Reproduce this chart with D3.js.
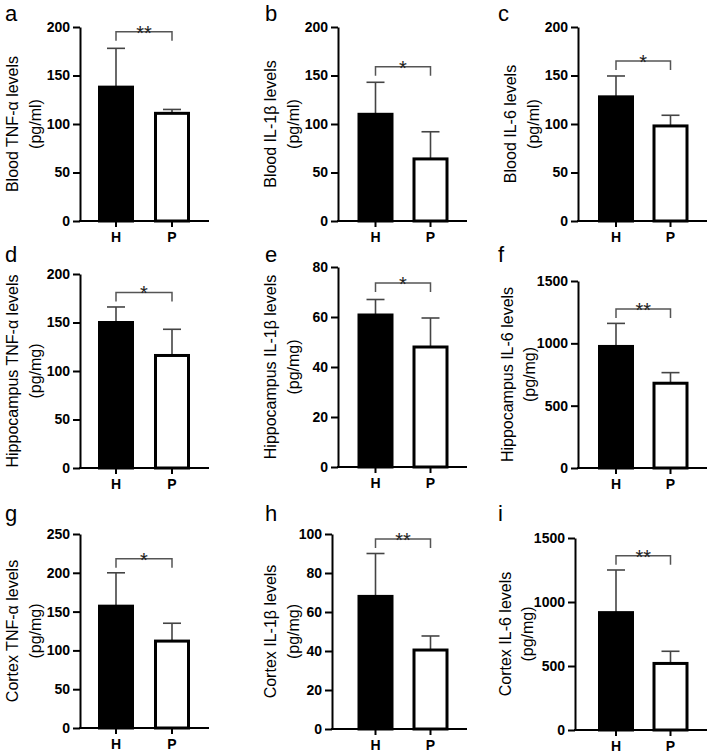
<!DOCTYPE html>
<html><head><meta charset="utf-8">
<script src="https://cdn.jsdelivr.net/npm/d3@7"></script>
<style>body{margin:0;background:#fff}svg{display:block;font-family:"Liberation Sans",Arial,sans-serif}</style>
</head><body><svg id="c" width="712" height="755"></svg>
<script>
const panelLetters = ["a","b","c","d","e","f","g","h","i"];
const groups = ["H","P"];
const titles = ["Blood TNF-α levels","Blood IL-1β levels","Blood IL-6 levels",
  "Hippocampus TNF-α levels","Hippocampus IL-1β levels","Hippocampus IL-6 levels",
  "Cortex TNF-α levels","Cortex IL-1β levels","Cortex IL-6 levels"];
const units = ["(pg/ml)","(pg/ml)","(pg/ml)","(pg/mg)","(pg/mg)","(pg/mg)","(pg/mg)","(pg/mg)","(pg/mg)"];
const meanH = [138,110,128,150,60.8,975,157,68,917];
const meanP = [111,64,98,116,48,680,112,40.5,520];
const errH  = [40,33,21.5,16,6.2,185,43,22,333];
const errP  = [4,28,11,27,11.6,85,23,7.2,95];
const sigValue = [195,159,165,181,73.6,1275,218,97.4,1362];
const sigText = ["**","*","*","*","*","**","*","**","**"];
const yMax = [200,200,200,200,80,1500,250,100,1500];
const yTicks = [
  [0,50,100,150,200],[0,50,100,150,200],[0,50,100,150,200],
  [0,50,100,150,200],[0,20,40,60,80],[0,500,1000,1500],
  [0,50,100,150,200,250],[0,20,40,60,80,100],[0,500,1000,1500]];

// layout (pixels)
const axisX = [80,338,578,80,338,578,80,332,575];
const yBottom = [221,221,221,468,467,468,728,729,730];
const yTop = [27,27,27,274,267,281,534,534,538];
const colBarH = [116,375.5,616];
const colBarP = [172,430.5,670.5];
const colEnd = [209,467,707];
const lab1X = [12,270,510,12,270,507,12,270,505];
const lab2X = [35,293,533,35,293,529,35,293,527];
const colLetter = [5,265,498];
const rowLetterY = [21,262,521];

const svg = d3.select("#c");
panelLetters.forEach((L,i)=>{
  const col = i%3, row = Math.floor(i/3);
  const g = svg.append("g");
  const y = d3.scaleLinear().domain([0,yMax[i]]).range([yBottom[i],yTop[i]]);
  const x = d3.scaleOrdinal().domain(groups).range([colBarH[col],colBarP[col]]);
  const bw = 33;
  const means = [meanH[i],meanP[i]], errs=[errH[i],errP[i]];
  // error bars
  groups.forEach((k,j)=>{
    const cx = x(k);
    g.append("line").attr("x1",cx).attr("x2",cx).attr("y1",y(means[j])).attr("y2",y(means[j]+errs[j]))
      .attr("stroke","#444").attr("stroke-width",1.6);
    g.append("line").attr("x1",cx-9).attr("x2",cx+9).attr("y1",y(means[j]+errs[j])).attr("y2",y(means[j]+errs[j]))
      .attr("stroke","#444").attr("stroke-width",1.6);
  });
  // bars
  groups.forEach((k,j)=>{
    g.append("rect").attr("x",x(k)-bw/2).attr("width",bw)
      .attr("y",y(means[j])).attr("height",y(0)-y(means[j]))
      .attr("fill", j===0?"#000":"#fff").attr("stroke","#000").attr("stroke-width",3);
  });
  // y axis
  const ax = g.append("g").attr("transform",`translate(${axisX[i]},0)`)
    .call(d3.axisLeft(y).tickValues(yTicks[i]).tickFormat(d3.format("d")).tickSize(7).tickPadding(3).tickSizeOuter(0));
  ax.select(".domain").attr("stroke","#000").attr("stroke-width",2);
  ax.selectAll(".tick line").attr("stroke","#000").attr("stroke-width",2);
  ax.selectAll(".tick text").attr("font-family","Liberation Sans, Arial, sans-serif")
    .attr("font-size",14).attr("font-weight","bold").attr("fill","#000");
  // x axis
  g.append("line").attr("x1",axisX[i]-1).attr("x2",colEnd[col]).attr("y1",yBottom[i]).attr("y2",yBottom[i])
    .attr("stroke","#000").attr("stroke-width",2);
  groups.forEach(k=>{
    g.append("line").attr("x1",x(k)).attr("x2",x(k)).attr("y1",yBottom[i]).attr("y2",yBottom[i]+6)
      .attr("stroke","#000").attr("stroke-width",2);
    g.append("text").attr("x",x(k)).attr("y",yBottom[i]+21).attr("text-anchor","middle")
      .attr("font-size",14).attr("font-weight","bold").text(k);
  });
  // significance bracket
  const by = y(sigValue[i]);
  g.append("path").attr("d",`M${x("H")},${by+9}V${by}H${x("P")}V${by+9}`)
    .attr("fill","none").attr("stroke","#555").attr("stroke-width",1.5);
  g.append("text").attr("x",(x("H")+x("P"))/2).attr("y",by+8).attr("text-anchor","middle")
    .attr("font-size",20).attr("fill","#222").text(sigText[i]);
  // y labels
  const cy = (yTop[i]+yBottom[i])/2;
  g.append("text").attr("transform",`translate(${lab1X[i]},${cy}) rotate(-90)`)
    .attr("text-anchor","middle").attr("dominant-baseline","central").attr("font-size",16).text(titles[i]);
  g.append("text").attr("transform",`translate(${lab2X[i]},${cy}) rotate(-90)`)
    .attr("text-anchor","middle").attr("dominant-baseline","central").attr("font-size",16).text(units[i]);
  // panel letter
  g.append("text").attr("x",colLetter[col]).attr("y",rowLetterY[row]).attr("font-size",22).text(L);
});
</script></body></html>
